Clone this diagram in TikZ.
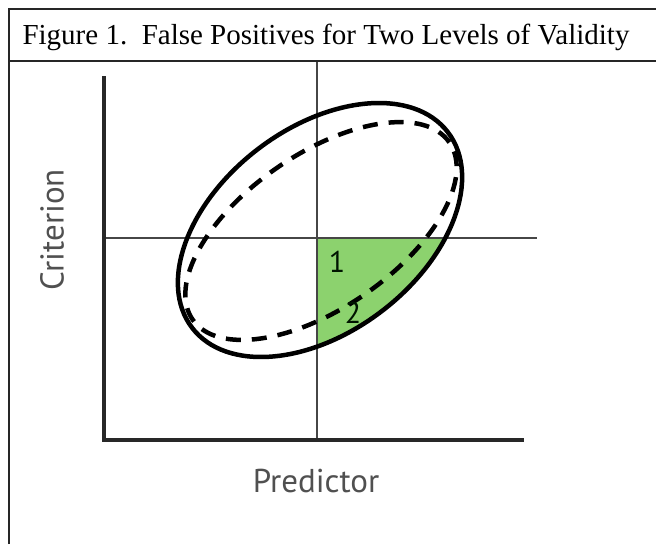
\documentclass[tikz,border=0pt]{standalone}
\usepackage{fontspec}
\setmainfont{Liberation Serif}
\newfontfamily\labfont{PT Sans}
\definecolor{fillgreen}{RGB}{140,210,110}
\definecolor{axisgray}{RGB}{40,40,40}
\definecolor{linegray}{RGB}{70,70,70}
\definecolor{labgray}{RGB}{80,80,80}
\begin{document}
\begin{tikzpicture}[x=1pt,y=-1pt,
  frame/.style={line width=2pt,black!85},
  axis/.style={line width=4pt,axisgray},
  refline/.style={line width=2pt,linegray},
  solidell/.style={line width=4.5pt,black},
  dashell/.style={line width=4.5pt,black,dash pattern=on 15pt off 11pt},
  axlabel/.style={font=\labfont\fontsize{33}{38}\selectfont,text=labgray},
  numlabel/.style={font=\labfont\fontsize{30}{34}\selectfont,text=black!80!green!40!black}]
\useasboundingbox (0,0) rectangle (656,544);
% frame
\draw[frame] (9,544) -- (9,9) -- (656,9);
\draw[frame] (9,61) -- (656,61);
\node[anchor=west,font=\fontsize{29}{34}\selectfont] (title) at (19,37) {Figure 1.\ \ False Positives for Two Levels of Validity};
% green region
\begin{scope}
  \clip (317,238) rectangle (600,500);
  \fill[fillgreen] (320,230) [rotate around={37.4:(320,230)}] ellipse [x radius=161pt, y radius=102pt];
\end{scope}
% reference lines
\draw[refline] (317,62) -- (317,440);
\draw[refline] (104,238) -- (537,238);
% axes
\draw[axis,line cap=rect] (104,78) -- (104,440) -- (522,440);
% ellipses
\draw[solidell] (320,230) [rotate around={37.4:(320,230)}] ellipse [x radius=161pt, y radius=102pt];
\draw[dashell] (321,231) [rotate around={34.6:(321,231)}] ellipse [x radius=156pt, y radius=77pt];
% labels
\node[numlabel] (one) at (337,262) {1};
\node[numlabel] (two) at (353,313) {2};
\node[axlabel] (pred) at (316,481) {Predictor};
\node[axlabel,rotate=90] (crit) at (52,230) {Criterion};
\end{tikzpicture}
\end{document}
